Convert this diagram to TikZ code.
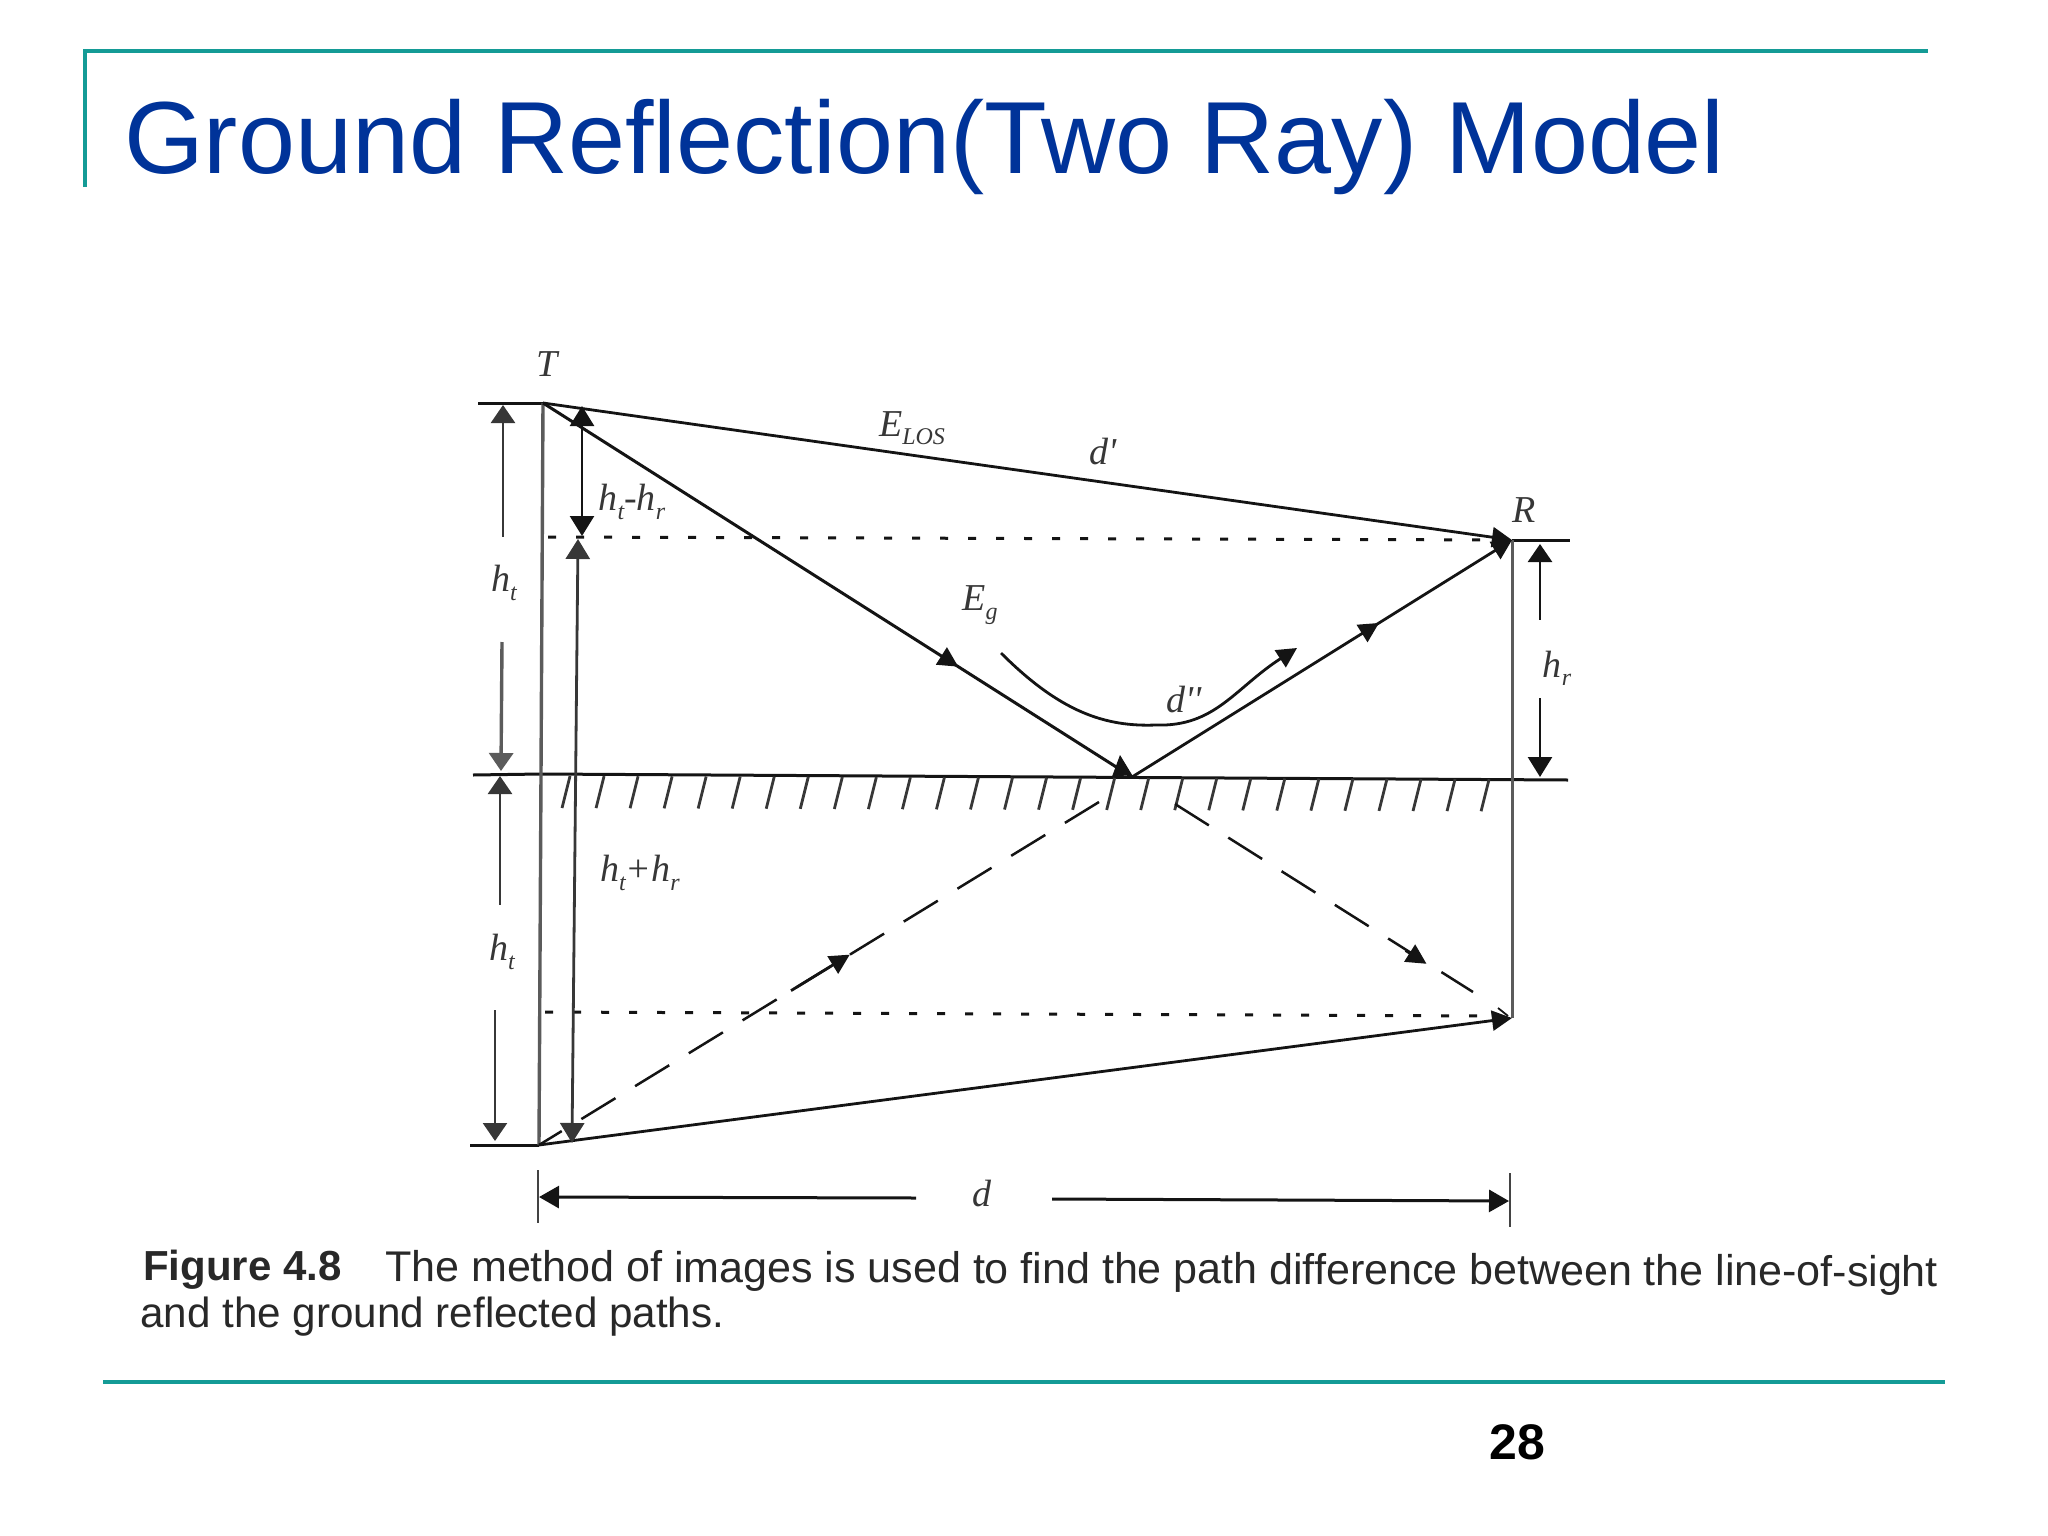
\documentclass[tikz,border=0pt]{standalone}
\usepackage{fontspec}
\setmainfont{Liberation Sans}
\newfontfamily\labfont{Liberation Serif}
\usetikzlibrary{arrows.meta,calc}
\definecolor{frameteal}{RGB}{20,155,150}
\definecolor{titleblue}{RGB}{0,51,153}
\definecolor{ink}{RGB}{20,20,20}
\definecolor{capink}{RGB}{40,40,40}
\newcommand{\sbs}[1]{\raisebox{-0.22em}{\fontsize{24}{24}\selectfont #1}}
\tikzset{
  frameline/.style={frameteal,line width=4pt},
  rayline/.style={ink,line width=3pt},
  thinline/.style={ink!80,line width=2.4pt},
  tipped/.style={ink,line width=2.8pt,-{Triangle[length=20pt,width=20pt]}},
  dotline/.style={ink,line width=3pt,dash pattern=on 8pt off 20pt},
  longdash/.style={ink,line width=2.5pt,dash pattern=on 40pt off 23pt},
  hatchline/.style={ink!85,line width=2.8pt},
  lab/.style={inner sep=0pt,font=\labfont\itshape\fontsize{38}{42}\selectfont,text=ink!85},
  captext/.style={inner sep=0pt,anchor=base west,font=\fontsize{42.2}{46}\selectfont,text=capink}
}
\begin{document}
\begin{tikzpicture}[x=1pt,y=-1pt]
\useasboundingbox (0,0) rectangle (2048,1536);
% slide frame
\coordinate (fa) at (85,187); \coordinate (fb) at (85,51); \coordinate (fc) at (1928,51);
\coordinate (fd) at (103,1382); \coordinate (fe) at (1945,1382);
\draw[frameline] (fa) -- (fb) -- (fc);
\draw[frameline] (fd) -- (fe);
\node[anchor=base west,inner sep=0pt,text=titleblue,font=\fontsize{102.5}{110}\selectfont] (title) at (124,173) {Ground Reflection(Two Ray) Model};
\node[inner sep=0pt,font=\bfseries\fontsize{50}{54}\selectfont,text=black] (page) at (1517,1442) {28};
% key points
\coordinate (T) at (543,403);
\coordinate (B) at (539,1145);
\coordinate (G) at (1132,777);
\coordinate (R) at (1512,540);
\coordinate (I) at (1512,1018);
\coordinate (gl) at (541,774);
\coordinate (gr) at (1568,780);
% horizontal reference lines
\coordinate (tl) at (478,403); \draw[rayline] (tl) -- (T);
\coordinate (gll) at (473,775); \draw[rayline] (gll) -- (gl);
\coordinate (bl) at (470,1145); \draw[rayline] (bl) -- (B);
\draw[rayline] (gl) -- (gr);
\coordinate (rr) at (1570,540); \draw[rayline] (R) -- (rr);
\coordinate (dua) at (548,537); \coordinate (dub) at (1505,540); \draw[dotline] (dua) -- (dub);
\coordinate (dla) at (545,1012); \coordinate (dlb) at (1500,1016); \draw[dotline] (dla) -- (dlb);
% verticals
\draw[ink!70,line width=3.4pt] (T) -- (B);
\draw[ink!70,line width=3pt] (R) -- (I);
% hatching
\foreach \i in {0,...,27}{
  \draw[hatchline] ({570+34.04*\i},{776+0.12*\i}) -- ({562+34.04*\i},{808+0.12*\i});
}
% rays
\draw[tipped] (T) -- (R);
\draw[rayline] (T) -- (G);
\draw[tipped] (G) -- (R);
\draw[tipped] (B) -- (I);
\draw[tipped] ($(T)!0.688!(G)$) -- ($(T)!0.705!(G)$);
\draw[tipped] ($(G)!0.635!(R)$) -- ($(G)!0.65!(R)$);
\coordinate (ga) at (1122,776); \coordinate (gb) at (1120,755);
\draw[ink,line width=1pt,-{Triangle[length=21pt,width=20pt]}] (ga) -- (gb);
% image rays
\coordinate (ia) at (1099,802);
\coordinate (ib) at (1175,804);
\coordinate (ic) at (1473,992);
\draw[longdash] (ia) -- (B);
\draw[longdash] (ib) -- (ic);
\draw[tipped] ($(B)!0.45!(ia)$) -- ($(B)!0.555!(ia)$);
\draw[tipped] ($(G)!0.72!(I)$) -- ($(G)!0.775!(I)$);
\coordinate (ie) at (1498,1008); \coordinate (id) at (1508,1016);
\draw[ink,line width=1.8pt] (ie) -- (id);
% path curve
\coordinate (ca) at (1001,653); \coordinate (cb) at (1156,725); \coordinate (cc) at (1297,648);
\draw[tipped] (ca) .. controls (1060,712) and (1105,727) .. (cb) .. controls (1215,727) and (1235,688) .. (cc);
% dimension arrows
\coordinate (a1t) at (503,405); \coordinate (a1b) at (503,537);
\draw[ink!85,line width=2.6pt,{Triangle[length=18pt,width=24pt]}-] (a1t) -- (a1b);
\coordinate (a2t) at (502,642); \coordinate (a2b) at (501,771);
\draw[ink!70,line width=3.4pt,-{Triangle[length=18pt,width=24pt]}] (a2t) -- (a2b);
\coordinate (a3t) at (500,776); \coordinate (a3b) at (500,905);
\draw[ink!85,line width=2.6pt,{Triangle[length=18pt,width=24pt]}-] (a3t) -- (a3b);
\coordinate (a4t) at (495,1010); \coordinate (a4b) at (495,1141);
\draw[ink!85,line width=2.6pt,-{Triangle[length=18pt,width=24pt]}] (a4t) -- (a4b);
\coordinate (b1t) at (582,406); \coordinate (b1b) at (582,536);
\draw[ink,line width=2.6pt,{Triangle[length=20pt,width=24pt]}-{Triangle[length=20pt,width=24pt]}] (b1t) -- (b1b);
\coordinate (b2t) at (578,539); \coordinate (b2b) at (572,1143);
\draw[ink!85,line width=2.8pt,{Triangle[length=20pt,width=24pt]}-{Triangle[length=20pt,width=24pt]}] (b2t) -- (b2b);
\coordinate (c1t) at (1540,544); \coordinate (c1b) at (1540,620);
\draw[ink,line width=2.6pt,{Triangle[length=18pt,width=24pt]}-] (c1t) -- (c1b);
\coordinate (c2t) at (1540,698); \coordinate (c2b) at (1540,777);
\draw[ink,line width=2.6pt,-{Triangle[length=20pt,width=24pt]}] (c2t) -- (c2b);
% baseline dimension
\coordinate (dl1) at (538,1170); \coordinate (dl2) at (538,1223);
\coordinate (dr1) at (1510,1173); \coordinate (dr2) at (1510,1227);
\draw[thinline] (dl1) -- (dl2);
\draw[thinline] (dr1) -- (dr2);
\coordinate (da) at (916,1198); \coordinate (db) at (539,1197);
\draw[ink,line width=3pt,-{Triangle[length=20pt,width=22pt]}] (da) -- (db);
\coordinate (dc) at (1052,1199); \coordinate (dd) at (1509,1201);
\draw[ink,line width=3pt,-{Triangle[length=20pt,width=22pt]}] (dc) -- (dd);
% labels
\node[lab] (lT) at (547,364) {T};
\node[lab] (lR) at (1524,510) {R};
\node[lab] (lEL) at (912,428) {E\sbs{LOS}};
\node[lab] (ldp) at (1103,452) {d'};
\node[lab] (lEg) at (980,605) {E\sbs{g}};
\node[lab] (ldpp) at (1184,700) {d''};
\node[lab] (lh1) at (504,583) {h\sbs{t}};
\node[lab] (lh2) at (502,952) {h\sbs{t}};
\node[lab] (lhr) at (1557,668) {h\sbs{r}};
\node[lab] (lm) at (632,502) {h\sbs{t}-h\sbs{r}};
\node[lab] (lp) at (640,873) {h\sbs{t}+h\sbs{r}};
\node[lab] (ld) at (982,1193) {d};
% caption
\node[captext,font=\bfseries\fontsize{42}{46}\selectfont] (capa) at (143,1280) {Figure 4.8};
\node[captext,rotate=-0.2,font=\fontsize{43}{46}\selectfont] (capb) at (385,1281) {The method of images is used to find the path difference between the line-of-sight};
\node[captext] (capc) at (140,1327) {and the ground reflected paths.};
\end{tikzpicture}
\end{document}
